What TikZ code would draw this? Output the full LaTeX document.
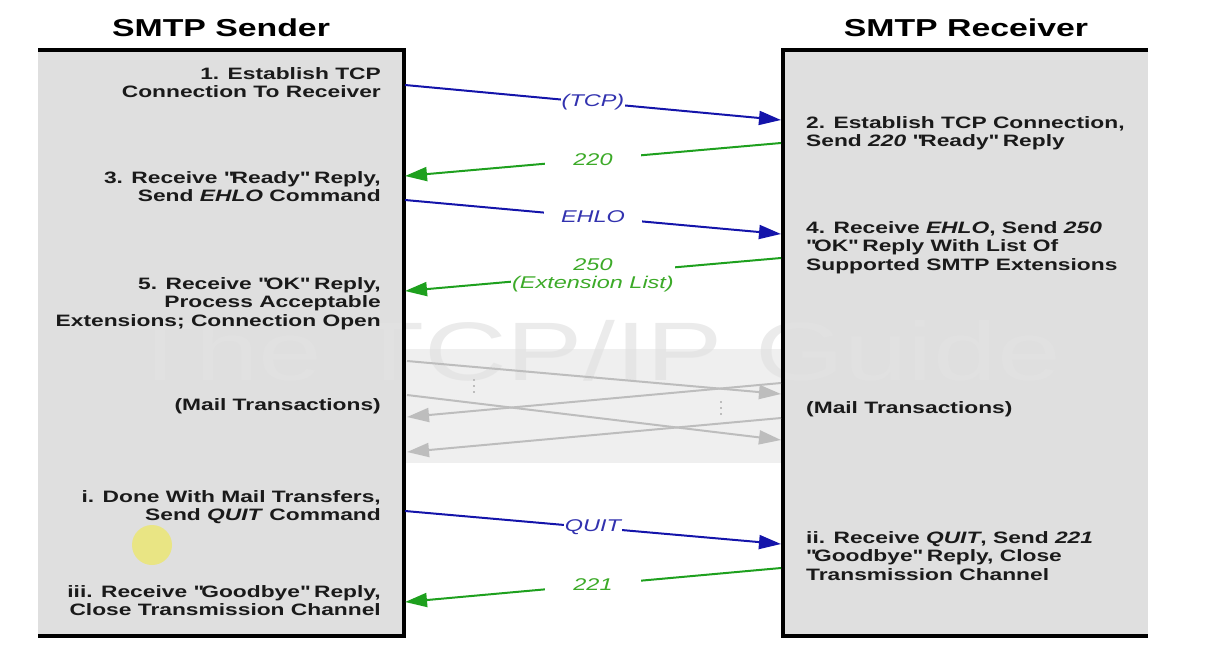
\documentclass[tikz,border=0pt]{standalone}
\usepackage{fontspec}
\setmainfont{Liberation Sans}[FakeStretch=1.38]
\usetikzlibrary{arrows.meta}
\definecolor{boxgray}{HTML}{DFDFDF}
\definecolor{bandgray}{HTML}{EFEFEF}
\definecolor{wmgray}{HTML}{E2E2E2}
\definecolor{txt}{HTML}{1A1A1A}
\definecolor{blueline}{RGB}{20,20,170}
\definecolor{bluetext}{RGB}{50,50,175}
\definecolor{greenline}{RGB}{30,160,30}
\definecolor{greentext}{RGB}{60,170,40}
\definecolor{graymsg}{HTML}{BDBDBD}
\definecolor{cursor}{HTML}{E9E584}
\newcommand{\dq}{\textquotedbl{}}
\tikzset{
  title/.style={font=\fontsize{24.5}{27}\selectfont\bfseries, text=black, inner sep=0pt},
  lefttext/.style={font=\fontsize{16.5}{18.5}\selectfont\bfseries, text=txt, align=right, anchor=north east, inner sep=0pt},
  righttext/.style={font=\fontsize{16.5}{18.5}\selectfont\bfseries, text=txt, align=left, anchor=north west, inner sep=0pt},
  border/.style={line width=3.5pt, black},
  tip/.style={-{Triangle[length=22pt,width=14pt]}},
  bluemsg/.style={tip, line width=2pt, blueline},
  greenmsg/.style={tip, line width=2pt, greenline},
  graymsgs/.style={tip, line width=2pt, graymsg},
  lbl/.style={font=\fontsize{17}{18}\selectfont\itshape, fill=white, inner ysep=2pt},
  bluelbl/.style={lbl, text=bluetext},
  greenlbl/.style={lbl, text=greentext},
  dot/.style={fill=graymsg, inner sep=0pt, minimum size=2.6pt, shape=rectangle}
}
\begin{document}
\begin{tikzpicture}[x=1pt,y=-1pt]
\useasboundingbox (0,0) rectangle (1232,654);
% boxes
\fill[boxgray] (38,50) rectangle (404,636);
\fill[boxgray] (783,50) rectangle (1148,636);
\fill[bandgray] (405,349) rectangle (781,463);
% watermark
\node[font=\fontsize{83}{90}\selectfont, text=wmgray, text opacity=0.7, inner sep=0pt] (wm) at (593,351) {The TCP/IP Guide};
% cursor highlight
\fill[cursor] (152,545) circle (20);
% borders
\draw[border] (38,50) -- (404,50) -- (404,636) -- (38,636);
\draw[border] (1148,50) -- (783,50) -- (783,636) -- (1148,636);
% titles
\node[title] (ts) at (221,28) {SMTP Sender};
\node[title] (tr) at (966,28) {SMTP Receiver};
% sender texts
\node[lefttext] (l1) at (381,67) {1. Establish TCP\\Connection To Receiver};
\node[lefttext] (l3) at (381,171) {3. Receive \dq Ready\dq\ Reply,\\Send \textit{EHLO} Command};
\node[lefttext] (l5) at (381,277) {5. Receive \dq OK\dq\ Reply,\\Process Acceptable\\Extensions; Connection Open};
\node[lefttext] (lm) at (381,398) {(Mail Transactions)};
\node[lefttext] (li) at (381,490) {i. Done With Mail Transfers,\\Send \textit{QUIT} Command};
\node[lefttext] (liii) at (381,585) {iii. Receive \dq Goodbye\dq\ Reply,\\Close Transmission Channel};
% receiver texts
\node[righttext] (r2) at (806,116) {2. Establish TCP Connection,\\Send \textit{220} \dq Ready\dq\ Reply};
\node[righttext] (r4) at (806,221) {4. Receive \textit{EHLO}, Send \textit{250}\\\dq OK\dq\ Reply With List Of\\Supported SMTP Extensions};
\node[righttext] (rm) at (806,401) {(Mail Transactions)};
\node[righttext] (rii) at (806,531) {ii. Receive \textit{QUIT}, Send \textit{221}\\\dq Goodbye\dq\ Reply, Close\\Transmission Channel};
% arrow end points on box edges
\coordinate (s1) at (405,85);   \coordinate (e1) at (781,120);
\coordinate (s2) at (781,143);  \coordinate (e2) at (405,176);
\coordinate (s3) at (405,200);  \coordinate (e3) at (781,234);
\coordinate (s4) at (781,258);  \coordinate (e4) at (405,291);
\coordinate (s5) at (405,511);  \coordinate (e5) at (781,544);
\coordinate (s6) at (781,568);  \coordinate (e6) at (405,602);
\coordinate (g1s) at (407,361); \coordinate (g1e) at (781,394);
\coordinate (g2s) at (407,395); \coordinate (g2e) at (781,440);
\coordinate (g3s) at (781,383); \coordinate (g3e) at (407,417);
\coordinate (g4s) at (781,418); \coordinate (g4e) at (407,452);
% mail transaction arrows
\draw[graymsgs] (g1s) -- (g1e);
\draw[graymsgs] (g2s) -- (g2e);
\draw[graymsgs] (g3s) -- (g3e);
\draw[graymsgs] (g4s) -- (g4e);
\node[dot] (d1) at (474,380) {};
\node[dot] (d2) at (474,386) {};
\node[dot] (d3) at (474,392) {};
\node[dot] (d4) at (721,402) {};
\node[dot] (d5) at (721,408) {};
\node[dot] (d6) at (721,414) {};
% messages
\draw[bluemsg] (s1) -- node[bluelbl, inner xsep=1pt] (m1) {(TCP)} (e1);
\draw[greenmsg] (s2) -- node[greenlbl, inner xsep=28pt] (m2) {220} (e2);
\draw[bluemsg] (s3) -- node[bluelbl, inner xsep=17pt] (m3) {EHLO} (e3);
\draw[greenmsg] (s4) -- node[greenlbl, inner xsep=1pt, align=center, font=\fontsize{17}{18.5}\selectfont\itshape, yshift=-1pt] (m4) {250\\(Extension List)} (e4);
\draw[bluemsg] (s5) -- node[bluelbl, inner xsep=1pt] (m5) {QUIT} (e5);
\draw[greenmsg] (s6) -- node[greenlbl, inner xsep=28pt] (m6) {221} (e6);
\end{tikzpicture}
\end{document}
